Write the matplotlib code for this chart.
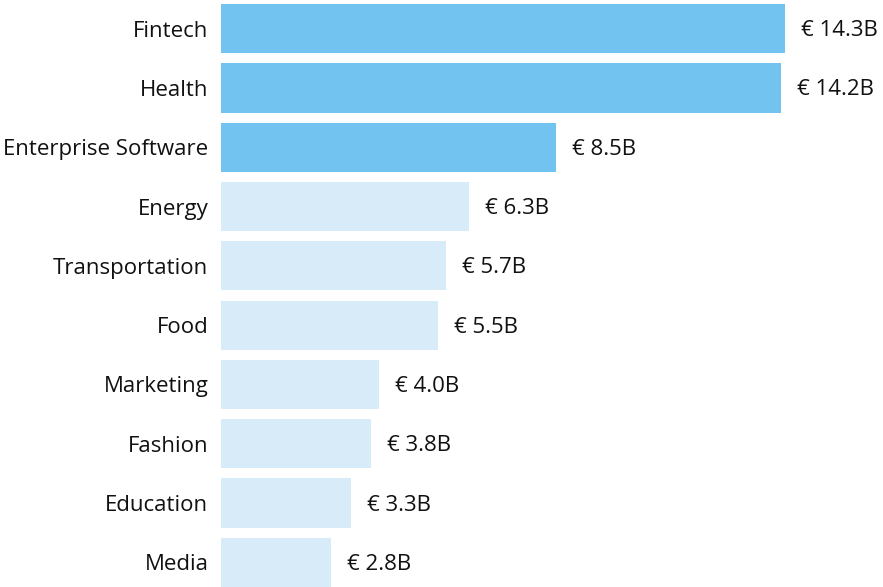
import matplotlib
matplotlib.use("Agg")
import matplotlib.pyplot as plt

categories = ["Fintech", "Health", "Enterprise Software", "Energy", "Transportation",
              "Food", "Marketing", "Fashion", "Education", "Media"]
values = [14.3, 14.2, 8.5, 6.3, 5.7, 5.5, 4.0, 3.8, 3.3, 2.8]
highlight = [True, True, True, False, False, False, False, False, False, False]
value_labels = ["€ 14.3B", "€ 14.2B", "€ 8.5B", "€ 6.3B", "€ 5.7B",
                "€ 5.5B", "€ 4.0B", "€ 3.8B", "€ 3.3B", "€ 2.8B"]

dark = "#72C3EF"
light = "#D7EBF8"

W, H = 883, 587
fig = plt.figure(figsize=(W / 100, H / 100), dpi=100)
ax = fig.add_axes([221 / W, 0, (883 - 221) / W, 583 / H])

colors = [dark if h else light for h in highlight]
y = list(range(len(categories)))
ax.barh(y, values, height=0.83, color=colors)
ax.set_ylim(len(categories) - 1 + 0.415, -0.415)
ax.set_xlim(0, (883 - 221) / 39.44)

for yi, v, lab in zip(y, values, value_labels):
    ax.annotate(lab, (v, yi), xytext=(16, -2), textcoords="offset pixels",
                va="center", ha="left", fontsize=16, family="Open Sans", color="#111111")

ax.set_yticks(y)
ax.set_yticklabels(categories, fontsize=16, family="Open Sans", color="#111111")
ax.tick_params(axis="y", length=0, pad=9)
ax.set_xticks([])
for s in ax.spines.values():
    s.set_visible(False)

fig.savefig("out.png", dpi=100)
